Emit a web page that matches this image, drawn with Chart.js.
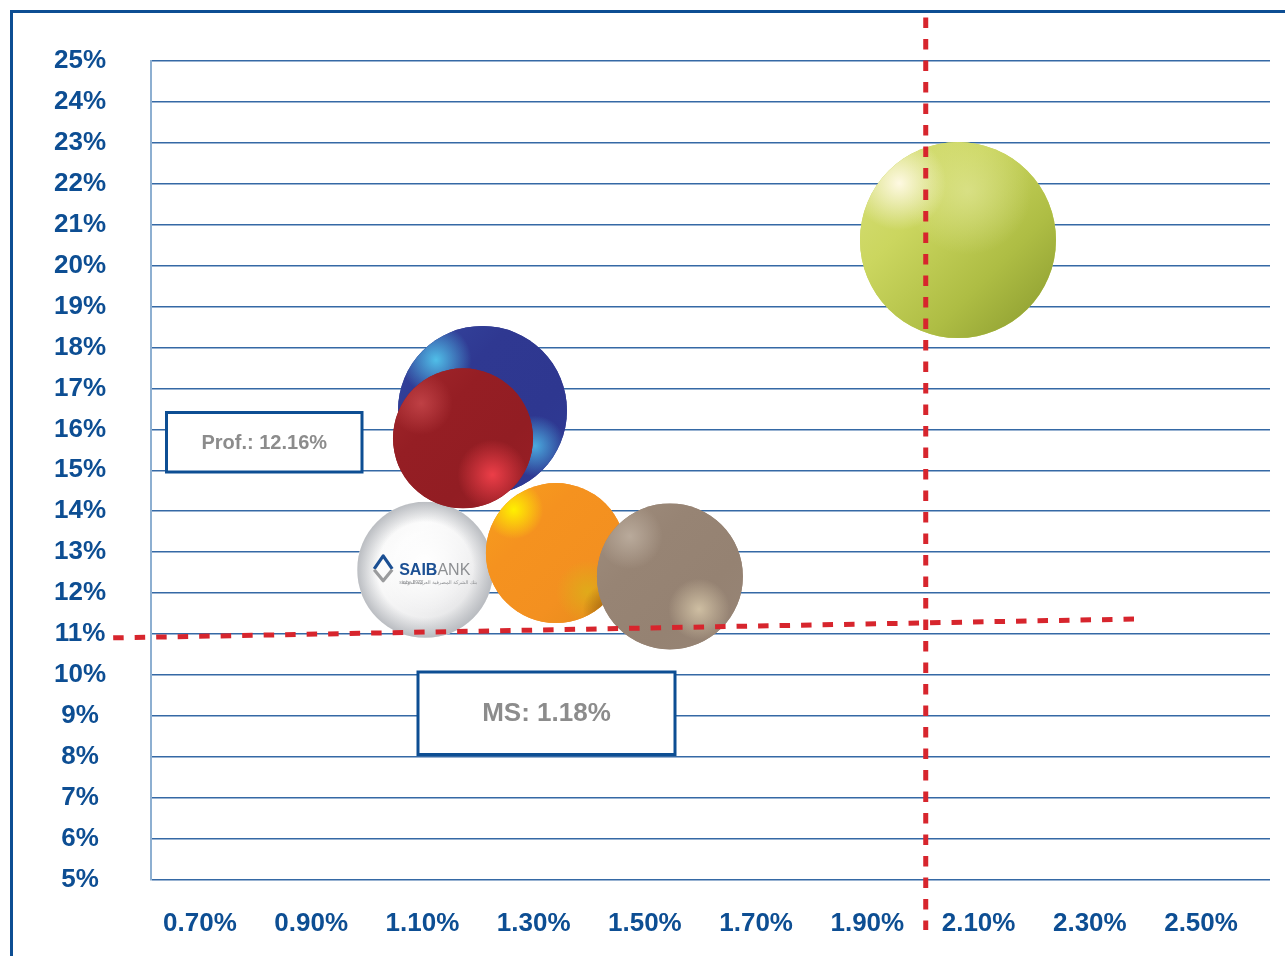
<!DOCTYPE html>
<html>
<head>
<meta charset="utf-8">
<script src="https://cdn.jsdelivr.net/npm/chart.js@4/dist/chart.umd.min.js"></script>
<style>
  html, body { margin: 0; padding: 0; background: #fff; }
</style>
</head>
<body>
<canvas id="shareVsProfit" width="1285" height="956"></canvas>
<script>
// Market share (x, %) against profitability (y, %), one bubble per bank
var banks         = ['Peer A', 'Peer B', 'Peer C', 'SAIB', 'Peer D', 'Peer E'];
var marketShare   = [2.063, 1.208, 1.173, 1.105, 1.340, 1.545];
var profitability = [20.62, 16.46, 15.78, 12.57, 12.98, 12.41];
var bubbleSize    = [98, 84.5, 70, 68, 70, 73];

// axis ticks
var xTicks = [0.70, 0.90, 1.10, 1.30, 1.50, 1.70, 1.90, 2.10, 2.30, 2.50];
var yTicks = [5, 6, 7, 8, 9, 10, 11, 12, 13, 14, 15, 16, 17, 18, 19, 20, 21, 22, 23, 24, 25];

// dashed reference lines
var shareRefX  = [2.005, 2.005];
var shareRefY  = [26.05, 3.78];
var profitRefX = [0.544, 2.381];
var profitRefY = [10.91, 11.37];

var profitLabel = 'Prof.: 12.16%';
var shareLabel  = 'MS: 1.18%';

var BLUE = '#0d4e93';
var FONT = '"Liberation Sans", Arial, sans-serif';

// sphere looks: body gradient (top-left -> bottom-right) plus soft light spots
var looks = [
  { base: '#c4d155', body: ['#d8e07a', '#cbd65f', '#aebd44', '#86972c'],
    spots: [{ c: '224,230,150', x: 0.1, y: -0.5, s: 0.65, a: 0.7 },
            { c: '254,249,226', x: -0.6, y: -0.58, s: 0.48, a: 1 }] },
  { base: '#2e3790', body: ['#3548a0', '#2f3891', '#2e3790', '#2f3b95'],
    spots: [{ c: '80,190,232', x: -0.55, y: -0.6, s: 0.42, a: 1 },
            { c: '75,170,222', x: 0.62, y: 0.42, s: 0.36, a: 1 }] },
  { base: '#951e24', body: ['#a3272c', '#951e24', '#921d23', '#9a1f26'],
    spots: [{ c: '200,72,76', x: -0.6, y: -0.5, s: 0.45, a: 0.8 },
            { c: '236,62,72', x: 0.42, y: 0.52, s: 0.5, a: 1 }] },
  { base: '#f4f4f4', body: ['#f2f2f2', '#fbfbfb', '#eeeeef', '#d6d7d9'],
    spots: [{ c: '255,255,255', x: 0, y: -0.1, s: 0.75, a: 1 }],
    rim: '180,183,188' },
  { base: '#f5921f', body: ['#f7a01d', '#f5921f', '#f39020', '#e38b1a'],
    spots: [{ c: '255,240,0', x: -0.6, y: -0.62, s: 0.42, a: 1 },
            { c: '224,170,26', x: 0.45, y: 0.55, s: 0.45, a: 1 },
            { c: '120,70,10', x: 0.78, y: 0.82, s: 0.4, a: 0.7 }] },
  { base: '#978474', body: ['#9f8d7d', '#978474', '#958272', '#978576'],
    spots: [{ c: '185,170,155', x: -0.55, y: -0.55, s: 0.45, a: 1 },
            { c: '206,190,162', x: 0.4, y: 0.45, s: 0.42, a: 1 }] }
];
// stacking: lower order is painted on top
var stackOrder = [6, 5, 3, 4, 2, 1];

function paintSphere(ctx, x, y, r, look) {
  ctx.save();
  ctx.beginPath();
  ctx.arc(x, y, r, 0, Math.PI * 2);
  ctx.clip();
  var body = ctx.createLinearGradient(x - r, y - r, x + r, y + r);
  look.body.forEach(function (c, i) { body.addColorStop(i / (look.body.length - 1), c); });
  ctx.fillStyle = body;
  ctx.fillRect(x - r, y - r, 2 * r, 2 * r);
  look.spots.forEach(function (s) {
    var cx = x + s.x * r, cy = y + s.y * r;
    var g = ctx.createRadialGradient(cx, cy, 0, cx, cy, s.s * r);
    g.addColorStop(0, 'rgba(' + s.c + ',' + s.a + ')');
    g.addColorStop(1, 'rgba(' + s.c + ',0)');
    ctx.fillStyle = g;
    ctx.fillRect(x - r, y - r, 2 * r, 2 * r);
  });
  if (look.rim) {
    var rim = ctx.createRadialGradient(x, y, r * 0.7, x, y, r);
    rim.addColorStop(0, 'rgba(' + look.rim + ',0)');
    rim.addColorStop(1, 'rgba(' + look.rim + ',0.9)');
    ctx.fillStyle = rim;
    ctx.fillRect(x - r, y - r, 2 * r, 2 * r);
  }
  ctx.restore();
}

function drawSaibLogo(ctx, x, y) {
  ctx.save();
  var mx = x - 42, my = y - 2;
  ctx.lineWidth = 3.2;
  ctx.lineJoin = 'round';
  ctx.strokeStyle = '#1b4f93';
  ctx.beginPath();
  ctx.moveTo(mx - 9, my + 1); ctx.lineTo(mx, my - 12); ctx.lineTo(mx + 9, my + 1);
  ctx.stroke();
  ctx.strokeStyle = '#9a9b9d';
  ctx.beginPath();
  ctx.moveTo(mx - 9, my + 2); ctx.lineTo(mx, my + 13); ctx.lineTo(mx + 9, my + 2);
  ctx.stroke();

  ctx.textBaseline = 'alphabetic';
  ctx.textAlign = 'left';
  ctx.font = 'bold 16px ' + FONT;
  ctx.fillStyle = '#1b4f93';
  ctx.fillText('SAIB', x - 26, y + 5);
  var w = ctx.measureText('SAIB').width;
  ctx.font = '16px ' + FONT;
  ctx.fillStyle = '#8d8f92';
  ctx.fillText('ANK', x - 26 + w, y + 5);

  ctx.font = 'italic 5px ' + FONT;
  ctx.fillText('since 1976', x - 26, y + 14);
  ctx.textAlign = 'right';
  ctx.font = '5px "DejaVu Sans", sans-serif';
  ctx.fillText('بنك الشركة المصرفية العربية الدولية', x + 52, y + 14);
  ctx.restore();
}

function drawNote(ctx, text, left, top, right, bottom, size) {
  ctx.save();
  ctx.fillStyle = '#ffffff';
  ctx.fillRect(left, top, right - left, bottom - top);
  ctx.lineWidth = 3;
  ctx.strokeStyle = BLUE;
  ctx.strokeRect(left, top, right - left, bottom - top);
  ctx.font = 'bold ' + size + 'px ' + FONT;
  ctx.fillStyle = '#8c8c8c';
  ctx.textAlign = 'center';
  ctx.textBaseline = 'middle';
  ctx.fillText(text, (left + right) / 2, (top + bottom) / 2 + 1);
  ctx.restore();
}

var decor = {
  id: 'decor',
  beforeDraw: function (chart) {
    var ctx = chart.ctx;
    ctx.save();
    ctx.fillStyle = '#ffffff';
    ctx.fillRect(0, 0, chart.width, chart.height);
    ctx.strokeStyle = BLUE;
    ctx.lineWidth = 3;
    ctx.beginPath();
    ctx.moveTo(11.5, chart.height);
    ctx.lineTo(11.5, 11.5);
    ctx.lineTo(chart.width, 11.5);
    ctx.stroke();
    ctx.restore();
  },
  afterDatasetDraw: function (chart, args) {
    var ds = chart.data.datasets[args.index];
    if (ds.look === undefined) return;
    var ctx = chart.ctx;
    args.meta.data.forEach(function (pt) {
      paintSphere(ctx, pt.x, pt.y, pt.options.radius, looks[ds.look]);
      if (ds.label === 'SAIB') drawSaibLogo(ctx, pt.x, pt.y);
    });
  },
  afterDraw: function (chart) {
    var ctx = chart.ctx;
    drawNote(ctx, profitLabel, 166.5, 412.5, 362, 472, 20);
    drawNote(ctx, shareLabel, 418, 672, 675, 754.5, 26);
  }
};

var datasets = [
  {
    type: 'line', label: 'share ref', order: 0, clip: false,
    data: shareRefX.map(function (x, i) { return { x: x, y: shareRefY[i] }; }),
    borderColor: '#d7252d', borderWidth: 5, borderDash: [10.5, 11], borderCapStyle: 'butt',
    pointRadius: 0, fill: false
  },
  {
    type: 'line', label: 'profit ref', order: 0, clip: false,
    data: profitRefX.map(function (x, i) { return { x: x, y: profitRefY[i] }; }),
    borderColor: '#d7252d', borderWidth: 5, borderDash: [10.5, 11], borderCapStyle: 'butt',
    pointRadius: 0, fill: false
  }
];
banks.forEach(function (name, i) {
  datasets.push({
    type: 'bubble',
    label: name,
    order: stackOrder[i],
    look: i,
    data: [{ x: marketShare[i], y: profitability[i], r: bubbleSize[i] }],
    backgroundColor: looks[i].base,
    borderWidth: 0
  });
});

var tickFont = { family: FONT, size: 26, weight: 'bold' };

new Chart(document.getElementById('shareVsProfit'), {
  type: 'bubble',
  data: { datasets: datasets },
  plugins: [decor],
  options: {
    responsive: false,
    animation: false,
    events: [],
    layout: { autoPadding: false, padding: { left: 0, right: 15, top: 56, bottom: 0 } },
    plugins: {
      legend: { display: false },
      tooltip: { enabled: false }
    },
    scales: {
      x: {
        type: 'linear',
        min: 0.612,
        max: 2.624,
        afterBuildTicks: function (scale) {
          scale.ticks = xTicks.map(function (v) { return { value: v }; });
        },
        afterFit: function (scale) { scale.height = 76; },
        grid: { display: false, drawTicks: false },
        border: { display: false },
        ticks: {
          padding: 28,
          color: BLUE,
          font: tickFont,
          maxRotation: 0,
          autoSkip: false,
          callback: function (v) { return v.toFixed(2) + '%'; }
        }
      },
      y: {
        type: 'linear',
        min: 5,
        max: 25,
        afterBuildTicks: function (scale) {
          scale.ticks = yTicks.map(function (v) { return { value: v }; });
        },
        afterFit: function (scale) { scale.width = 151; },
        grid: { color: '#3569a5', lineWidth: 1.6, drawTicks: false },
        border: { display: true, color: '#8dafd1', width: 2 },
        ticks: {
          padding: 45,
          crossAlign: 'center',
          color: BLUE,
          font: tickFont,
          autoSkip: false,
          callback: function (v) { return v + '%'; }
        }
      }
    }
  }
});
</script>
</body>
</html>
